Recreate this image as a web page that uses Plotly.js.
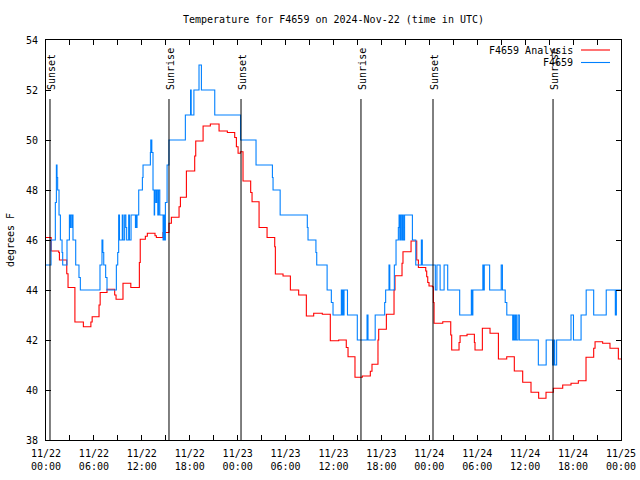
<!DOCTYPE html>
<html>
<head>
<meta charset="utf-8">
<script src="https://cdn.plot.ly/plotly-3.0.1.min.js"></script>
<style>html,body{margin:0;padding:0;background:#fff;}#chart{width:640px;height:480px;}</style>
</head>
<body>
<div id="chart"></div>
<script>
// Hours after 2024-11-22 00:00 UTC
const analysisHours = [0,0.65,1.6,1.68,2.6,2.76,3.62,4.68,5.62,5.78,6.64,6.78,7.64,8.6,8.77,9.64,10.62,11.69,11.8,12.44,12.69,13.65,13.82,14.65,15.4,15.7,16.66,16.83,17.58,18.62,18.75,19.67,20.58,21.67,22.71,23.63,23.84,24.05,24.34,24.67,25.63,25.8,26.68,27.68,28.64,28.72,29.68,30.6,31.64,32.6,33.52,34.6,35.6,36.65,37.6,37.82,38.69,39.61,40.61,40.82,41.57,41.66,42.62,43.58,43.7,44.58,44.7,45.71,46.42,46.63,47.55,47.67,47.8,47.96,48.38,48.51,48.59,49.68,50.68,50.8,51.72,51.85,52.72,53.64,53.72,54.64,55.6,56.65,57.69,58.64,59.69,60.73,61.69,62.61,63.53,64.7,65.74,66.66,67.62,68.58,68.75,69.7,70.62,71.67,72];
const analysisTemps = [46.1,45.56,45.5,45.2,44.65,44.1,42.72,42.53,42.72,42.93,43.4,43.9,44.03,43.8,43.63,44.27,44.1,45.1,46.03,46.15,46.27,46.17,46.1,46.3,46.67,46.91,47.33,47.71,48.76,49.36,49.96,50.56,50.64,50.36,50.3,50.1,49.73,49.47,49.53,48.36,47.9,47.53,46.5,46.1,45.73,44.64,44.56,44.0,43.8,42.96,43.07,43.03,41.97,42.0,41.7,41.33,40.51,40.56,40.75,41.03,42.0,42.43,43.03,44.0,44.57,45.07,45.53,45.96,45.2,44.9,44.76,44.53,44.3,44.16,44.13,43.5,42.67,42.73,42.2,41.6,41.9,42.17,42.23,41.9,41.6,42.47,42.27,41.24,41.33,40.76,40.31,39.91,39.67,39.91,40.07,40.2,40.27,40.37,41.31,41.67,41.93,41.87,41.67,41.24,41.24];

const obsHours = [0,0.63,1.17,1.3,1.38,1.46,1.63,1.8,2.01,2.09,2.63,2.93,3.05,3.1,3.26,3.3,3.38,3.72,4.13,4.3,6.76,7.01,7.12,7.23,7.47,7.64,8.81,8.98,9.1,9.2,9.55,9.65,9.85,10.0,10.1,10.35,10.45,10.65,11.2,11.3,11.35,11.4,11.61,12.07,12.15,13.07,13.12,13.25,13.4,13.55,13.6,13.75,13.85,14.0,14.1,14.25,14.66,14.75,14.85,14.95,15.16,15.4,17.45,18.1,18.18,18.45,18.52,19.16,19.46,21.13,24.36,26.3,28.35,28.43,29.32,32.72,32.81,33.8,33.9,35.2,35.73,35.94,36.98,37.08,37.16,37.25,37.32,37.75,38.98,40.2,40.32,41.22,42.41,42.53,42.95,43.05,43.62,43.83,44.12,44.21,44.3,44.4,44.55,44.65,44.75,44.9,45.88,46.3,47.0,47.12,48.75,48.95,49.35,49.85,50.3,51.8,53.26,53.36,53.45,54.7,54.82,54.88,55.55,57.0,57.15,57.5,57.7,58.44,58.55,58.65,58.8,58.9,59.1,59.27,61.65,62.63,63.44,63.6,63.7,63.94,65.74,66.05,67.0,67.64,68.58,70.15,71.29,71.42,72];
const obsTemps = [45,46,47.5,49,48.5,48,47,46,45.5,45,46,47,46.5,47,46.5,47,46,45,44.5,44,45,46,45.5,45,44.5,44,45,45.5,47,46,47,46,47,46.5,46,47,46,47,46.5,47,46.5,47,48,48.5,49,49.5,50,49.5,48,47,48,47.5,48,47,48,47,46,47,46,47.5,49,50,51,52,51,51,52,53,52,51,50,49,48.5,48,47,46.5,46,45.5,45,44,43.5,43,44,43,44,43,44,43,42,43,42,43,43.5,44,45,44,45,46,46.5,47,46,47,46,47,46,47,46,45,46,45,44,45,44,45,44,43,44,43,44,45,44,45,44,45,44,43.5,43,42,43,42,43,42,43,42,41,42,41,42,41,42,43,42,43,44,43,44,43,44,44];

const sunHours = [0.5,15.4,24.42,39.44,48.46,63.49];
const sunLabels = ['Sunset','Sunrise','Sunset','Sunrise','Sunset','Sunrise'];

const tickHours = [0,3,6,9,12,15,18,21,24,27,30,33,36,39,42,45,48,51,54,57,60,63,66,69,72];
const tickLabels = ['11/22<br>00:00','','11/22<br>06:00','','11/22<br>12:00','','11/22<br>18:00','','11/23<br>00:00','','11/23<br>06:00','','11/23<br>12:00','','11/23<br>18:00','','11/24<br>00:00','','11/24<br>06:00','','11/24<br>12:00','','11/24<br>18:00','','11/25<br>00:00'];

const seriesNames = ['F4659 Analysis','F4659'];
const seriesColors = ['#ff0000','#0080ff'];

const FONT = 'DejaVu Sans Mono, Liberation Mono, monospace';
const M = {l:46, r:19, t:40, b:40};
const PW = 640 - M.l - M.r, PH = 480 - M.t - M.b;
const px2x = p => (p - M.l) / PW;
const py2y = p => (480 - M.b - p) / PH;

const traces = [
  {x: analysisHours, y: analysisTemps, name: seriesNames[0], type:'scatter', mode:'lines',
   line:{shape:'hv', color:seriesColors[0], width:1.1}, showlegend:false},
  {x: obsHours, y: obsTemps, name: seriesNames[1], type:'scatter', mode:'lines',
   line:{shape:'hv', color:seriesColors[1], width:1.1}, showlegend:false}
];

const shapes = sunHours.map(h => ({type:'line', xref:'x', yref:'paper', x0:h, x1:h, y0:0, y1:py2y(99),
  line:{color:'#000', width:1}}));
const annotations = sunHours.map((h,i) => ({x:h, xref:'x', y:py2y(92), yref:'paper', text:sunLabels[i],
  textangle:-90, xanchor:'center', yanchor:'bottom', showarrow:false, xshift:1,
  font:{family:FONT, size:10, color:'#000'}}));

// manual legend (text right, sample line to its right)
const legendRows = [50, 62.5];
seriesNames.forEach((n,i) => {
  annotations.push({x:px2x(575), xref:'paper', y:py2y(legendRows[i]), yref:'paper', text:n,
    xanchor:'right', yanchor:'middle', showarrow:false, font:{family:FONT, size:10, color:'#000'}});
  shapes.push({type:'line', xref:'paper', yref:'paper', x0:px2x(581), x1:px2x(610),
    y0:py2y(legendRows[i]), y1:py2y(legendRows[i]), line:{color:seriesColors[i], width:1.1}});
});

const layout = {
  width:640, height:480, margin:M, paper_bgcolor:'#fff', plot_bgcolor:'#fff',
  font:{family:FONT, size:10, color:'#000'},
  title:{text:'Temperature for F4659 on 2024-Nov-22 (time in UTC)', x:0.5, xref:'paper',
    y:1-19/480, yref:'container', yanchor:'middle', font:{family:FONT, size:10, color:'#000'}},
  xaxis:{range:[0,72], tickvals:tickHours, ticktext:tickLabels, ticks:'inside', ticklen:5,
    tickcolor:'#000', showline:true, linecolor:'#000', linewidth:1, mirror:'allticks',
    showgrid:false, zeroline:false, tickfont:{family:FONT, size:10}, ticklabelstandoff:4},
  yaxis:{range:[38,54], dtick:2, tick0:38, ticks:'inside', ticklen:5, tickcolor:'#000',
    showline:true, linecolor:'#000', linewidth:1, mirror:'allticks', showgrid:false, zeroline:false,
    tickfont:{family:FONT, size:10}, ticklabelstandoff:5,
    title:{text:'degrees F', standoff:9, font:{family:FONT, size:10}}},
  shapes: shapes, annotations: annotations, showlegend:false
};

Plotly.newPlot('chart', traces, layout, {staticPlot:true, displayModeBar:false});
</script>
</body>
</html>
